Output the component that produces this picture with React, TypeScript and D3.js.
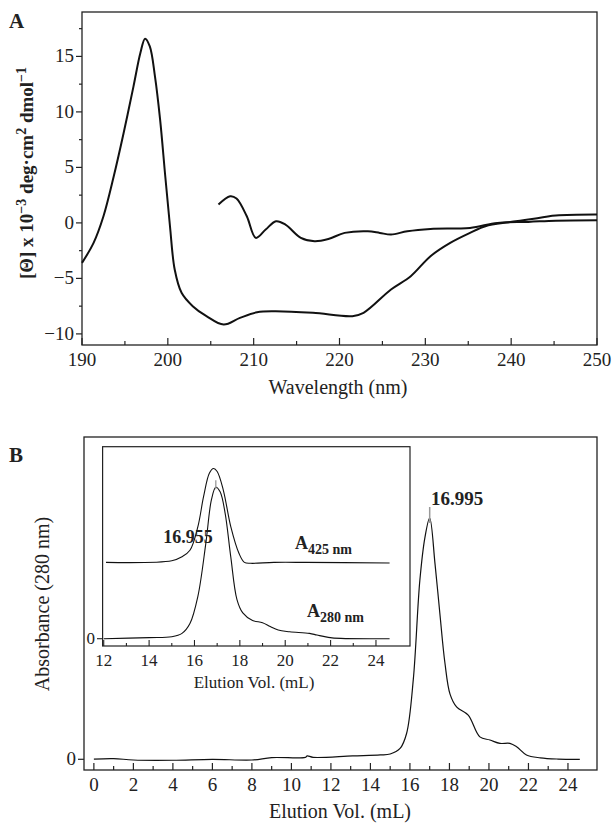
import React from 'react';
import * as d3 from 'd3';

// Panel A: CD spectra (wavelength nm, [theta] x 10^-3)
const cdWavelengthA = [190, 191.35, 192.5, 193.7, 194.85, 196.0, 196.8, 197.35, 197.9, 198.5, 199.1, 199.7, 200.25, 200.8, 201.6, 202.9, 204.5, 206.5, 208.4, 210.4, 212.4, 216.9, 221.5, 222.8, 226.0, 228.3, 230.6, 232.9, 235.2, 237.0, 239.7, 242.0, 245.2, 250];
const cdThetaA = [-3.6, -1.8, 0.6, 4.2, 8.1, 12.3, 15.3, 16.6, 15.9, 13.2, 9.3, 4.2, -0.3, -4.2, -6.3, -7.5, -8.4, -9.16, -8.56, -8.05, -7.96, -8.1, -8.4, -8.1, -6.0, -4.8, -3.0, -1.8, -0.9, -0.3, 0.06, 0.3, 0.66, 0.75];

const cdWavelengthB = [205.9, 207.25, 208.0, 209.2, 210.25, 211.4, 212.6, 213.7, 215.5, 217.1, 218.7, 220.6, 223.3, 224.7, 226.0, 227.9, 230.6, 235.2, 238.4, 242.0, 245.2, 250];
const cdThetaB = [1.65, 2.4, 2.2, 0.6, -1.35, -0.6, 0.15, -0.15, -1.35, -1.65, -1.45, -0.9, -0.75, -0.9, -1.05, -0.75, -0.54, -0.45, 0, 0.09, 0.2, 0.24];

const cdTicksX = [190, 200, 210, 220, 230, 240, 250];
const cdTicksY = [15, 10, 5, 0, -5, -10];

// Panel B: gel filtration (elution volume mL, relative absorbance)
const elutionVol = [0, 1, 2, 4, 6, 8, 9, 10.7, 10.8, 11.1, 13.1, 14.5, 15.0, 15.5, 15.83, 16.17, 16.5, 16.76, 17.0, 17.27, 17.52, 17.77, 18.03, 18.36, 18.95, 19.54, 20.05, 20.56, 21.06, 21.4, 21.9, 22.6, 23.5, 24.6];
const abs280 = [0.001, 0.003, -0.003, -0.004, 0, -0.003, 0.007, 0.008, 0.014, 0.008, 0.014, 0.018, 0.022, 0.045, 0.107, 0.33, 0.74, 0.92, 1.0, 0.81, 0.60, 0.40, 0.27, 0.217, 0.183, 0.093, 0.08, 0.066, 0.066, 0.052, 0.018, 0.006, 0.001, 0];

const insetVol280 = [12, 14, 15.0, 15.45, 15.8, 16.15, 16.5, 16.75, 16.94, 17.13, 17.35, 17.6, 17.87, 18.13, 18.56, 19.0, 19.34, 19.69, 20.2, 21.07, 21.4, 21.9, 22.45, 24.6];
const insetAbs280 = [0, 0.007, 0.013, 0.035, 0.10, 0.28, 0.63, 0.92, 1.0, 0.97, 0.83, 0.54, 0.26, 0.17, 0.12, 0.106, 0.08, 0.057, 0.046, 0.035, 0.024, 0.009, 0.002, 0];

const insetVol425 = [12.1, 15, 15.45, 15.8, 16.15, 16.4, 16.66, 16.84, 17.0, 17.27, 17.6, 17.96, 18.2, 18.48, 19.5, 20.9, 24.6];
const insetAbs425 = [0, 0.011, 0.037, 0.08, 0.236, 0.434, 0.59, 0.62, 0.60, 0.478, 0.236, 0.06, 0, -0.006, 0, 0, -0.004];
const offset425 = 0.504;

const elutionTicks = [0, 2, 4, 6, 8, 10, 12, 14, 16, 18, 20, 22, 24];
const insetTicks = [12, 14, 16, 18, 20, 22, 24];

const FONT = "'Liberation Serif', 'Times New Roman', serif";

const zip = (xs: number[], ys: number[]) => xs.map((x, i) => [x, ys[i]] as [number, number]);

export default function App() {
  // Panel A scales
  const ax = d3.scaleLinear().domain([190, 250]).range([82, 597]);
  const ay = d3.scaleLinear().domain([-11, 19]).range([345, 12]);
  const aLine = d3.line<[number, number]>()
    .x(d => ax(d[0])).y(d => ay(d[1]))
    .curve(d3.curveCatmullRom.alpha(0.5));

  // Panel B scales
  const bx = d3.scaleLinear().domain([-0.5, 25.47]).range([84, 597]);
  const by = d3.scaleLinear().domain([0, 1]).range([759.3, 518]);
  const bLine = d3.line<[number, number]>()
    .x(d => bx(d[0])).y(d => by(d[1]))
    .curve(d3.curveCatmullRom.alpha(0.5));

  // Inset scales
  const ix = d3.scaleLinear().domain([11.95, 25.5]).range([102.6, 410]);
  const iy = d3.scaleLinear().domain([0, 1]).range([638.7, 487.3]);
  const iLine = d3.line<[number, number]>()
    .x(d => ix(d[0])).y(d => iy(d[1]))
    .curve(d3.curveCatmullRom.alpha(0.5));

  const aMinorX = d3.range(195, 250, 10);
  const aMinorY = d3.range(-7.5, 19, 5);
  const bMinor = d3.range(1, 25, 2);
  const iMinor = d3.range(13, 25, 2);

  const peakB = elutionVol[abs280.indexOf(d3.max(abs280) as number)];
  const peakI = insetVol280[insetAbs280.indexOf(d3.max(insetAbs280) as number)];

  return (
    <svg width={612} height={823} style={{ position: 'absolute', left: 0, top: 0, background: '#fff', fontFamily: FONT }}>
      {/* ---------- Panel A ---------- */}
      <text x={9} y={28} fontSize={21} fontWeight="bold" fill="#222">A</text>
      <rect x={ax(190)} y={ay(19)} width={ax(250) - ax(190)} height={ay(-11) - ay(19)}
        fill="none" stroke="#222" strokeWidth={1.3} />
      {cdTicksX.map(t => (
        <g key={'ax' + t}>
          <line x1={ax(t)} x2={ax(t)} y1={ay(-11)} y2={ay(-11) - 7} stroke="#222" strokeWidth={1.2} />
          <text x={ax(t)} y={ay(-11) + 21} fontSize={19} textAnchor="middle" fill="#222">{t}</text>
        </g>
      ))}
      {aMinorX.map(t => (
        <line key={'amx' + t} x1={ax(t)} x2={ax(t)} y1={ay(-11)} y2={ay(-11) - 4} stroke="#222" strokeWidth={1.2} />
      ))}
      {cdTicksY.map(t => (
        <g key={'ay' + t}>
          <line x1={ax(190) - 6} x2={ax(190)} y1={ay(t)} y2={ay(t)} stroke="#222" strokeWidth={1.2} />
          <text x={ax(190) - 8} y={ay(t) + 6} fontSize={19} textAnchor="end" fill="#222">
            {t < 0 ? '\u2212' + Math.abs(t) : t}
          </text>
        </g>
      ))}
      {aMinorY.map(t => (
        <line key={'amy' + t} x1={ax(190) - 3} x2={ax(190)} y1={ay(t)} y2={ay(t)} stroke="#222" strokeWidth={1.2} />
      ))}
      <text x={338} y={394} fontSize={20} textAnchor="middle" fill="#222">Wavelength (nm)</text>
      <text transform="translate(33,173) rotate(-90)" fontSize={19} fontWeight="bold" textAnchor="middle" fill="#222">
        [Θ] x 10<tspan dy={-7} fontSize={14}>−3</tspan><tspan dy={7}> deg·cm</tspan>
        <tspan dy={-7} fontSize={14}>2</tspan><tspan dy={7}> dmol</tspan>
        <tspan dy={-7} fontSize={14}>−1</tspan>
      </text>
      <path d={aLine(zip(cdWavelengthA, cdThetaA)) || ''} fill="none" stroke="#111" strokeWidth={2} />
      <path d={aLine(zip(cdWavelengthB, cdThetaB)) || ''} fill="none" stroke="#111" strokeWidth={2} />

      {/* ---------- Panel B ---------- */}
      <text x={9} y={462} fontSize={21} fontWeight="bold" fill="#222">B</text>
      <rect x={84} y={437} width={597 - 84} height={770 - 437} fill="none" stroke="#222" strokeWidth={1.3} />
      {elutionTicks.map(t => (
        <g key={'bx' + t}>
          <line x1={bx(t)} x2={bx(t)} y1={770} y2={763} stroke="#222" strokeWidth={1.2} />
          <text x={bx(t)} y={791} fontSize={19} textAnchor="middle" fill="#222">{t}</text>
        </g>
      ))}
      {bMinor.map(t => (
        <line key={'bmx' + t} x1={bx(t)} x2={bx(t)} y1={770} y2={766} stroke="#222" strokeWidth={1.2} />
      ))}
      <line x1={78} x2={84} y1={by(0)} y2={by(0)} stroke="#222" strokeWidth={1.2} />
      <text x={76} y={by(0) + 6} fontSize={19} textAnchor="end" fill="#222">0</text>
      <text x={340} y={818} fontSize={20} textAnchor="middle" fill="#222">Elution Vol. (mL)</text>
      <text transform="translate(49,604) rotate(-90)" fontSize={20} textAnchor="middle" fill="#222">Absorbance (280 nm)</text>
      <path d={bLine(zip(elutionVol, abs280)) || ''} fill="none" stroke="#111" strokeWidth={1.2} />
      <line x1={bx(peakB)} x2={bx(peakB)} y1={by(1) - 11} y2={by(1) + 5} stroke="#999" strokeWidth={1.5} />
      <text x={457} y={505} fontSize={19} fontWeight="bold" textAnchor="middle" fill="#222">16.995</text>

      {/* ---------- Inset ---------- */}
      <rect x={102.6} y={446.7} width={410 - 102.6} height={646 - 446.7} fill="#fff" stroke="#222" strokeWidth={1.2} />
      {insetTicks.map(t => (
        <g key={'ix' + t}>
          <line x1={ix(t)} x2={ix(t)} y1={646} y2={640} stroke="#222" strokeWidth={1.1} />
          <text x={ix(t)} y={666} fontSize={17} textAnchor="middle" fill="#222">{t}</text>
        </g>
      ))}
      {iMinor.map(t => (
        <line key={'imx' + t} x1={ix(t)} x2={ix(t)} y1={646} y2={643} stroke="#222" strokeWidth={1.1} />
      ))}
      <line x1={97} x2={102.6} y1={iy(0)} y2={iy(0)} stroke="#222" strokeWidth={1.1} />
      <text x={95} y={iy(0) + 5} fontSize={17} textAnchor="end" fill="#222">0</text>
      <text x={254} y={688} fontSize={17} textAnchor="middle" fill="#222">Elution Vol. (mL)</text>
      <path d={iLine(zip(insetVol280, insetAbs280)) || ''} fill="none" stroke="#111" strokeWidth={1.1} />
      <path d={iLine(zip(insetVol425, insetAbs425.map(v => v + offset425))) || ''} fill="none" stroke="#111" strokeWidth={1.1} />
      <line x1={ix(peakI)} x2={ix(peakI)} y1={iy(1) - 7} y2={iy(1) + 2} stroke="#999" strokeWidth={1.3} />
      <text x={188} y={543} fontSize={18} fontWeight="bold" textAnchor="middle" fill="#222">16.955</text>
      <text x={295} y={549} fontSize={18} fontWeight="bold" fill="#222">
        A<tspan dy={5} fontSize={14}>425 nm</tspan>
      </text>
      <text x={307} y={617} fontSize={18} fontWeight="bold" fill="#222">
        A<tspan dy={5} fontSize={14}>280 nm</tspan>
      </text>
    </svg>
  );
}
